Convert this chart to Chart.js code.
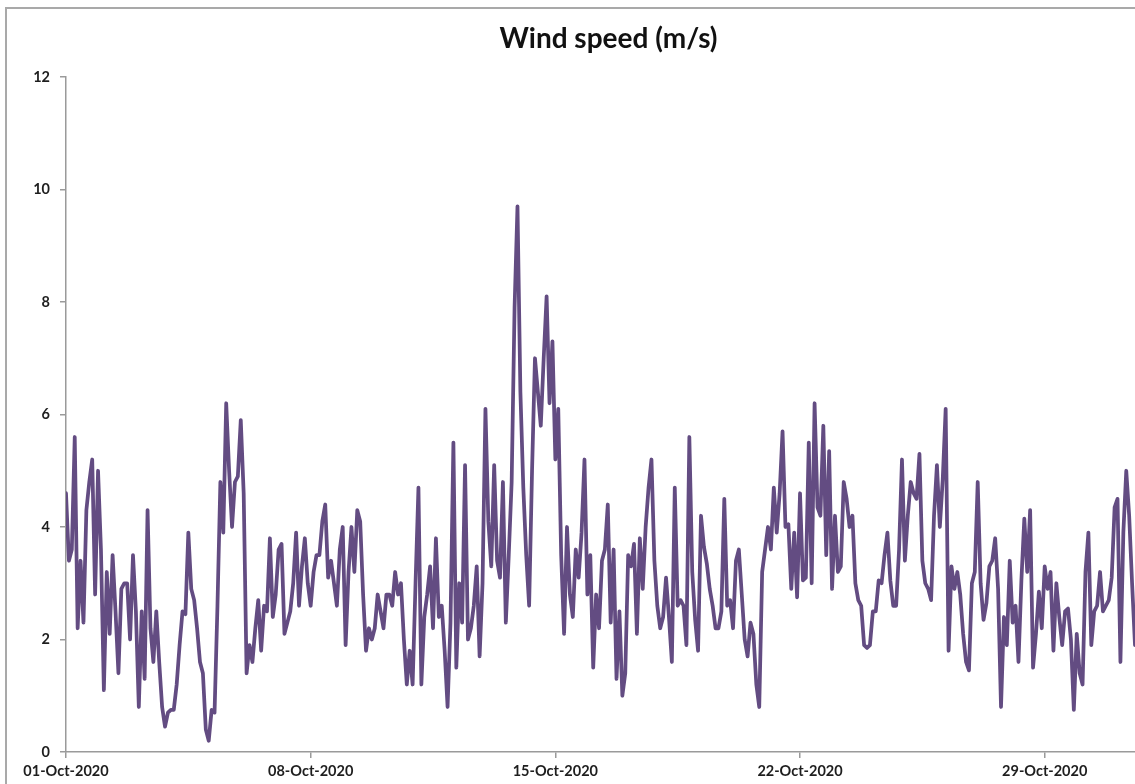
<!DOCTYPE html>
<html><head><meta charset="utf-8">
<script src="https://cdn.jsdelivr.net/npm/chart.js@4.4.1/dist/chart.umd.min.js"></script>
<style>
html,body{margin:0;padding:0;background:#fff;overflow:hidden;}
#wrap{position:relative;width:1135px;height:784px;overflow:hidden;background:#fff;}
#frame{position:absolute;left:5px;top:7px;width:2000px;height:2000px;border:2px solid #a9a9a9;box-sizing:border-box;}
#title{position:absolute;left:0;width:1217px;top:23px;text-align:center;font-family:Lato,sans-serif;font-weight:bold;font-size:28px;line-height:1;color:#111;white-space:nowrap;}
canvas{position:absolute;left:0;top:0;}
</style></head><body>
<div id="wrap"><div id="frame"></div><canvas id="c" width="1135" height="784"></canvas><div id="title">Wind speed (m/s)</div></div>
<script>
// Sampling interval of the series (hours between readings)
const STEP_HOURS = 2;

// Wind speed readings (m/s), one per STEP_HOURS, starting 01-Oct-2020 00:00
const week1 = [4.6,3.4,3.6,5.6,2.2,3.4,2.3,4.3,4.8,5.2,2.8,5.0,3.6,1.1,3.2,2.1,3.5,2.5,1.4,2.9,3.0,3.0,2.0,3.5,
  2.5,0.8,2.5,1.3,4.3,2.2,1.6,2.5,1.6,0.8,0.45,0.7,0.75,0.75,1.2,1.9,2.5,2.45,3.9,2.9,2.7,2.2,1.6,1.4,
  0.4,0.2,0.75,0.7,2.6,4.8,3.9,6.2,5.0,4.0,4.8,4.9,5.9,4.6,1.4,1.9,1.6,2.2,2.7,1.8,2.6,2.5,3.8,2.4,
  2.8,3.6,3.7,2.1,2.3,2.5,3.0,3.9,2.6,3.3,3.8,3.0];
const week2 = [2.6,3.2,3.5,3.5,4.1,4.4,3.1,3.4,3.0,2.6,3.6,4.0,1.9,3.2,4.0,3.2,4.3,4.1,2.8,1.8,
  2.2,2.0,2.2,2.8,2.5,2.2,2.8,2.8,2.6,3.2,2.8,3.0,2.0,1.2,1.8,1.2,3.0,4.7,
  1.2,2.4,2.8,3.3,2.2,3.8,2.4,2.6,1.8,0.8,2.3,5.5,1.5,3.0,2.3,5.1,2.0,2.2,2.6,3.3,
  1.7,3.0,6.1,4.1,3.3,5.1,3.4,3.1,4.8,2.3,3.5,4.8,7.9,9.7,6.4,4.7,3.5,2.6,5.0,7.0,
  6.4,5.8,7.0,8.1,6.2,7.3];
const week3 = [5.2,6.1,3.5,2.1,4.0,2.8,2.4,3.6,3.1,3.9,5.2,2.8,3.5,1.5,2.8,2.2,
  3.4,3.6,4.4,2.3,3.6,1.3,2.5,1.0,1.4,3.5,3.3,3.7,2.1,3.8,2.9,4.0,4.7,5.2,3.4,2.6,
  2.2,2.4,3.1,2.4,1.6,4.7,2.6,2.7,2.6,1.9,5.6,3.2,2.35,1.8,4.2,3.65,3.35,2.9,2.6,2.2,
  2.2,2.5,4.5,2.6,2.7,2.2,3.4,3.6,2.8,2.0,1.7,2.3,2.1,1.2,0.8,3.2,3.6,4.0,3.6,4.7,
  3.9,4.6,5.7,4.0,4.05,2.9,3.9,2.75];
const week4 = [4.6,3.05,3.1,5.5,3.0,6.2,4.35,4.2,5.8,3.5,5.35,2.9,4.2,3.2,
  3.3,4.8,4.5,4.0,4.2,3.0,2.7,2.6,1.9,1.85,1.9,2.5,2.5,3.05,3.0,3.5,3.9,3.05,2.6,2.6,
  3.6,5.2,3.4,4.2,4.8,4.6,4.5,5.3,3.4,3.0,2.9,2.7,4.2,5.1,4.0,4.85,6.1,1.8,3.3,2.9,3.2,
  2.8,2.1,1.6,1.45,3.0,3.2,4.8,3.0,2.35,2.65,3.3,3.4,3.8,2.9,0.8,2.4,1.9,3.4,2.3,2.6,
  1.6,3.05,4.15,3.2,4.3,1.5,2.1,2.85,2.2];
const week5 = [3.3,2.9,3.2,1.8,3.0,2.4,1.9,2.5,2.55,2.0,0.75,2.1,1.4,1.2,3.2,3.9,1.9,2.5,2.6,3.2,2.5,
  2.6,2.7,3.1,4.35,4.5,1.6,3.9,5.0,4.2,3.0,1.9];

// Axis ticks
const xTickHours = [0, 168, 336, 504, 672];
const xTickLabels = ['01-Oct-2020', '08-Oct-2020', '15-Oct-2020', '22-Oct-2020', '29-Oct-2020'];
const yTickValues = [0, 2, 4, 6, 8, 10, 12];
const X_MAX_HOURS = 734;

const speeds = [].concat(week1, week2, week3, week4, week5);
const points = speeds.map((v, i) => ({ x: i * STEP_HOURS, y: v }));

const AXIS_COLOR = '#9a9a9a';
const LABEL_FONT = { family: 'Lato', size: 14.5, weight: 'bold' };

function draw() {
  new Chart(document.getElementById('c'), {
    type: 'line',
    data: { datasets: [{
      data: points,
      borderColor: '#634C82',
      borderWidth: 3.75,
      pointRadius: 0,
      tension: 0,
      borderJoinStyle: 'round',
      borderCapStyle: 'round',
      fill: false
    }] },
    options: {
      responsive: false,
      devicePixelRatio: 1,
      animation: false,
      events: [],
      layout: { padding: { top: 77, left: 0, right: 0, bottom: 0 } },
      plugins: { legend: { display: false }, title: { display: false }, tooltip: { enabled: false } },
      scales: {
        x: {
          type: 'linear', min: 0, max: X_MAX_HOURS,
          afterBuildTicks: s => { s.ticks = xTickHours.map(v => ({ value: v })); },
          afterFit: s => { s.height = 32; },
          grid: { drawOnChartArea: false, drawTicks: true, tickLength: 6, color: AXIS_COLOR, lineWidth: 1.5 },
          border: { display: true, color: AXIS_COLOR, width: 1.5 },
          ticks: { autoSkip: false, maxRotation: 0, minRotation: 0, padding: 5, color: '#1e1e1e', font: LABEL_FONT,
            callback: v => xTickLabels[xTickHours.indexOf(v)] }
        },
        y: {
          min: 0, max: 12,
          afterBuildTicks: s => { s.ticks = yTickValues.map(v => ({ value: v })); },
          afterFit: s => { s.width = 66; },
          grid: { drawOnChartArea: false, drawTicks: true, tickLength: 6, color: AXIS_COLOR, lineWidth: 1.5 },
          border: { display: true, color: AXIS_COLOR, width: 1.5 },
          ticks: { padding: 10, color: '#1e1e1e', font: LABEL_FONT, callback: v => String(v) }
        }
      }
    }
  });
}
if (document.fonts && document.fonts.load) {
  Promise.all([document.fonts.load('bold 14px Lato'), document.fonts.load('bold 28px Lato')]).then(draw, draw);
} else { draw(); }
</script>
</body></html>
